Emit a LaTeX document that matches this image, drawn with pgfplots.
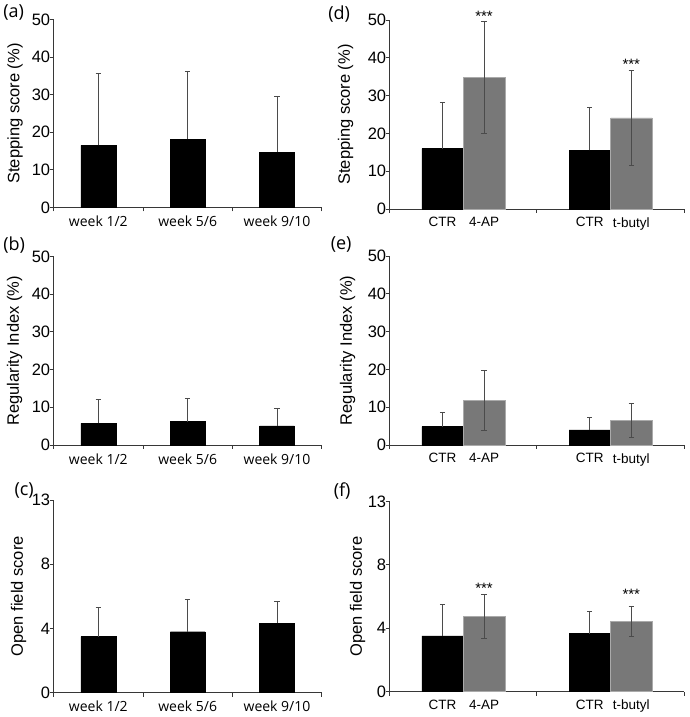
\documentclass[border=0pt]{standalone}
\usepackage{pgfplots}
\pgfplotsset{compat=1.18}
\usepackage{fontspec}
\setmainfont{Liberation Sans}
\newfontfamily\osans{Open Sans}
\definecolor{bargray}{RGB}{120,120,120}
\definecolor{bargrayedge}{RGB}{170,170,170}
\definecolor{axgray}{RGB}{55,55,55}
\definecolor{errgray}{RGB}{75,75,75}
\pgfplotsset{
  panel/.style={
    scale only axis,
    axis x line=bottom, axis y line=left,
    axis line style={-, draw=axgray, line width=0.9pt},
    ymin=0, xmin=0,
    major tick length=0pt, minor tick length=4pt,
    tick align=outside,
    tick style={draw=axgray, line width=0.9pt},
    /pgf/number format/assume math mode=true,
    yticklabel style={font=\fontsize{16.5}{16.5}\selectfont},
    ylabel style={font=\fontsize{16.5}{16.5}\selectfont, at={(axis description cs:0,0.5)}, anchor=center},
    clip=false,
    ybar, bar shift=0pt,
  },
  leftpanel/.style={
    panel, xmax=3, bar width=0.39,
    xtick={0.5,1.5,2.5}, minor xtick={0,1,2,3},
    xticklabels={week 1/2,week 5/6,week 9/10},
    xticklabel style={font=\osans\fontsize{14}{14}\selectfont, yshift=-5pt},
  },
  rightpanel/.style={
    panel, xmax=2, bar width=0.282,
    xtick={0.359,0.641,1.359,1.641}, minor xtick={0,1,2},
    xticklabels={CTR,4-AP,CTR,t-butyl},
    xticklabel style={font=\fontsize{13.5}{13.5}\selectfont, yshift=-5pt},
  },
  errb/.style={error bars/.cd, y dir=#1, y explicit, error mark=-,
    error mark options={rotate=90, errgray, line width=0.8pt, mark size=2.7pt},
    error bar style={errgray, line width=0.8pt}},
  ctrbar/.style={fill=black, draw=black},
  drugbar/.style={fill=bargray, draw=bargrayedge},
}
\newcommand{\stars}{\fontsize{15}{15}\selectfont ***}
\begin{document}
\begin{tikzpicture}[x=1pt,y=1pt]
\path (0,0) rectangle (689,717);
% (a)
\begin{axis}[leftpanel, at={(53.5pt,509.5pt)}, anchor=south west, width=268pt, height=188pt,
  ymax=50, ytick={0,10,...,50}, minor ytick={0,10,...,50},
  ylabel={Stepping score (\%)}, ylabel style={yshift=38.5pt}]
\addplot[ctrbar, errb=plus] coordinates {(0.5,16.5) +- (0,19.1) (1.5,18.1) +- (0,18.2) (2.5,14.7) +- (0,14.9)};
\end{axis}
% (b)
\begin{axis}[leftpanel, at={(53.5pt,272pt)}, anchor=south west, width=268pt, height=188.5pt,
  ymax=50, ytick={0,10,...,50}, minor ytick={0,10,...,50},
  ylabel={Regularity Index (\%)}, ylabel style={yshift=39pt}]
\addplot[ctrbar, errb=plus] coordinates {(0.5,5.75) +- (0,6.3) (1.5,6.2) +- (0,6.2) (2.5,5.1) +- (0,4.6)};
\end{axis}
% (c)
\begin{axis}[leftpanel, at={(53.5pt,24.5pt)}, anchor=south west, width=268pt, height=192.5pt,
  ymax=12, ytick={0,4,8,12}, minor ytick={0,4,8,12}, yticklabels={0,4,8,13},
  ylabel={Open field score}, ylabel style={yshift=35pt}]
\addplot[ctrbar, errb=plus] coordinates {(0.5,3.48) +- (0,1.8) (1.5,3.79) +- (0,2.03) (2.5,4.33) +- (0,1.32)};
\end{axis}
% (d)
\begin{axis}[rightpanel, at={(389.5pt,508pt)}, anchor=south west, width=294.5pt, height=189pt,
  ymax=50, ytick={0,10,...,50}, minor ytick={0,10,...,50},
  ylabel={Stepping score (\%)}, ylabel style={yshift=44pt}]
\addplot[ctrbar, errb=plus] coordinates {(0.359,16.0) +- (0,12.2) (1.359,15.5) +- (0,11.4)};
\addplot[drugbar, errb=both] coordinates {(0.641,34.9) +- (0,14.8) (1.641,24.1) +- (0,12.5)};
\node at (axis cs:0.641,51.0) {\stars};
\node at (axis cs:1.641,38.4) {\stars};
\end{axis}
% (e)
\begin{axis}[rightpanel, at={(389.5pt,272pt)}, anchor=south west, width=294.5pt, height=189pt,
  ymax=50, ytick={0,10,...,50}, minor ytick={0,10,...,50},
  ylabel={Regularity Index (\%)}, ylabel style={yshift=42pt}]
\addplot[ctrbar, errb=plus] coordinates {(0.359,4.85) +- (0,3.75) (1.359,4.0) +- (0,3.3)};
\addplot[drugbar, errb=both] coordinates {(0.641,11.8) +- (0,8.0) (1.641,6.5) +- (0,4.4)};
\end{axis}
% (f)
\begin{axis}[rightpanel, at={(389.5pt,25.5pt)}, anchor=south west, width=294.5pt, height=190pt,
  ymax=12, ytick={0,4,8,12}, minor ytick={0,4,8,12}, yticklabels={0,4,8,13},
  ylabel={Open field score}, ylabel style={yshift=32pt}]
\addplot[ctrbar, errb=plus] coordinates {(0.359,3.52) +- (0,2.0) (1.359,3.66) +- (0,1.37)};
\addplot[drugbar, errb=both] coordinates {(0.641,4.75) +- (0,1.38) (1.641,4.44) +- (0,0.95)};
\node at (axis cs:0.641,6.54) {\stars};
\node at (axis cs:1.641,6.11) {\stars};
\end{axis}
% panel labels
\node[font=\osans\fontsize{18}{18}\selectfont] at (13.5,704) {(a)};
\node[font=\osans\fontsize{18}{18}\selectfont] at (14,472) {(b)};
\node[font=\osans\fontsize{18}{18}\selectfont] at (24,226) {(c)};
\node[font=\osans\fontsize{18}{18}\selectfont] at (339,703) {(d)};
\node[font=\osans\fontsize{18}{18}\selectfont] at (341,472) {(e)};
\node[font=\osans\fontsize{18}{18}\selectfont] at (342,226) {(f)};
\end{tikzpicture}
\end{document}
